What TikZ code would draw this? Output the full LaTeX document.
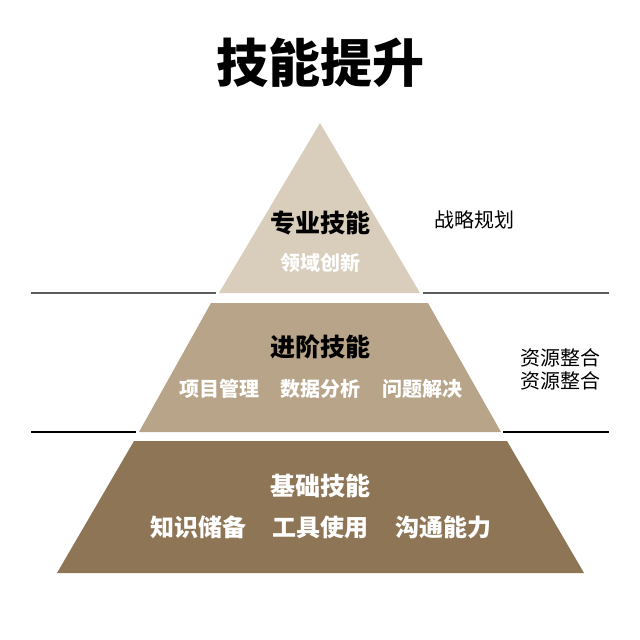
\documentclass[tikz,border=0pt]{standalone}
\usepackage{fontspec}
\newfontfamily\cjk{Noto Sans CJK SC}
\usetikzlibrary{positioning}
\definecolor{tiertop}{HTML}{D9CDBB}
\definecolor{tiermid}{HTML}{B8A589}
\definecolor{tierbase}{HTML}{8D7556}
\definecolor{ruletop}{HTML}{5C5C5C}
\tikzset{
    headline/.style={
        font=\cjk\bfseries\fontsize{52}{58}\selectfont
    },
    tiername/.style={
        font=\cjk\bfseries\fontsize{25}{30}\selectfont,
        inner sep=1pt
    },
    tieritem/.style={
        font=\cjk\bfseries\fontsize{20}{24}\selectfont,
        text=white,
        inner sep=1pt
    },
    baseitem/.style={
        tieritem,
        font=\cjk\bfseries\fontsize{24}{28}\selectfont
    },
    sidenote/.style={
        font=\cjk\fontsize{20}{24}\selectfont,
        align=center,
        inner sep=1pt
    },
    rule/.style={
        line width=1.8pt
    }
}

\begin{document}
\begin{tikzpicture}[x=1pt, y=-1pt]

\fill[white] (0,0) rectangle (640,640);
\useasboundingbox (0,0) rectangle (640,640);

\node[headline] (title) at (320,63) {技能提升};

% pyramid tiers
\fill[tiertop] (320,123) -- (420,293) -- (219,293) -- cycle;
\fill[tiermid] (211,303) -- (428,303) -- (501,432) -- (139,432) -- cycle;
\fill[tierbase] (134,441) -- (507,441) -- (584,573) -- (57,573) -- cycle;

% separators
\draw[rule, ruletop] (31,293) -- (216,293);
\draw[rule, ruletop] (423,293) -- (609,293);
\draw[rule, line width=1.2pt] (31,432) -- (136,432);
\draw[rule, line width=1.2pt] (503,432) -- (609,432);

\node[tiername] (expert) at (320,223) {专业技能};
\node[tieritem, below=16pt of expert] (innovate) {领域创新};
\node[sidenote] (strategy) at (474,220) {战略规划};

\node[tiername] (advanced) at (320,347) {进阶技能};
\node[tieritem] (project) at (219,389) {项目管理};
\node[tieritem] (data) at (320,389) {数据分析};
\node[tieritem] (solve) at (422,389) {问题解决};
\node[sidenote] (resource) at (560,369) {资源整合\\[-1pt]资源整合};

\node[tiername, text=white] (basic) at (320,486) {基础技能};
\node[baseitem] (knowledge) at (198,527) {知识储备};
\node[baseitem] (tools) at (320,527) {工具使用};
\node[baseitem] (comm) at (443,527) {沟通能力};

\end{tikzpicture}
\end{document}
